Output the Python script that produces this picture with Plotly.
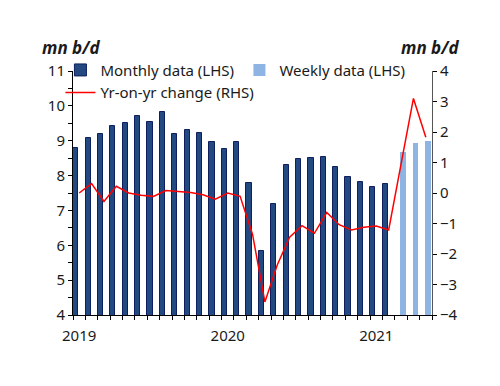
import plotly.graph_objects as go

# Categories: Jan 2019 .. May 2021
months = ["Jan-19","Feb-19","Mar-19","Apr-19","May-19","Jun-19","Jul-19","Aug-19","Sep-19","Oct-19","Nov-19","Dec-19",
          "Jan-20","Feb-20","Mar-20","Apr-20","May-20","Jun-20","Jul-20","Aug-20","Sep-20","Oct-20","Nov-20","Dec-20",
          "Jan-21","Feb-21","Mar-21","Apr-21","May-21"]
tick_text = ["2019" if m == "Jan-19" else "2020" if m == "Jan-20" else "2021" if m == "Jan-21" else "" for m in months]

monthly_x = months[:26]
monthly = [8.78, 9.07, 9.18, 9.41, 9.50, 9.71, 9.54, 9.83, 9.20, 9.31, 9.21, 8.97,
           8.75, 8.97, 7.78, 5.84, 7.18, 8.29, 8.47, 8.50, 8.54, 8.25, 7.97, 7.82,
           7.66, 7.75]
weekly_x = months[26:]
weekly = [8.67, 8.94, 8.99]
yoy = [0.00, 0.31, -0.28, 0.22, 0.00, -0.07, -0.11, 0.08, 0.05, 0.02, -0.06, -0.20,
       0.00, -0.11, -1.35, -3.57, -2.36, -1.45, -1.07, -1.32, -0.64, -1.04, -1.21, -1.12,
       -1.08, -1.21, 0.95, 3.10, 1.83]

FONT = "Noto Sans"
TXT = "#1a1a1a"

fig = go.Figure()
fig.add_trace(go.Bar(x=monthly_x, y=monthly, name="Monthly data (LHS)",
                     marker=dict(color="#224A80", line=dict(color="#0E1E5E", width=1)),
                     offset=-0.49, width=0.42))
fig.add_trace(go.Bar(x=weekly_x, y=weekly, name="Weekly data (LHS)",
                     marker=dict(color="#8DB4E2", line=dict(width=0)),
                     offset=-0.06, width=0.46))
fig.add_trace(go.Scatter(x=months, y=yoy, name="Yr-on-yr change (RHS)", mode="lines",
                         line=dict(color="#FF0000", width=1.5), yaxis="y2"))

fig.update_layout(
    width=500, height=386,
    margin=dict(l=73, r=68, t=71, b=71, autoexpand=False),
    paper_bgcolor="white", plot_bgcolor="white",
    font=dict(family=FONT, size=15, color=TXT),
    showlegend=True,
    legend=dict(orientation="h", x=-0.035, y=1.071, xanchor="left", yanchor="top",
                entrywidth=134, entrywidthmode="pixels",
                bgcolor="rgba(0,0,0,0)", font=dict(size=15, color=TXT),
                traceorder="normal", itemwidth=30),
    xaxis=dict(type="category", categoryorder="array", categoryarray=months,
               range=[-0.5, len(months) - 0.5],
               tickmode="array", tickvals=months, ticktext=tick_text, tickangle=0,
               tickson="boundaries", ticks="outside", ticklen=4, tickcolor="black",
               ticklabelstandoff=7,
               showline=True, linecolor="black", linewidth=1, showgrid=False,
               tickfont=dict(size=15, color=TXT), zeroline=False, automargin=False),
    yaxis=dict(range=[4, 11], dtick=1, ticks="outside", ticklen=4, tickcolor="black",
               minor=dict(dtick=0.5, ticks="outside", ticklen=4, tickcolor="black", showgrid=False),
               showline=True, linecolor="black", linewidth=1, showgrid=False, zeroline=False,
               tickfont=dict(size=15, color=TXT), automargin=False),
    yaxis2=dict(range=[-4, 4], dtick=1, overlaying="y", side="right",
                ticks="outside", ticklen=4, tickcolor="black",
                showline=True, linecolor="#555555", linewidth=1, showgrid=False, zeroline=False,
                tickfont=dict(size=15, color=TXT), automargin=False),
    bargap=0, barmode="overlay",
)

fig.add_annotation(text="<b><i>mn b/d</i></b>", xref="paper", yref="paper", x=-0.005, y=1.098,
                   xanchor="center", yanchor="middle", showarrow=False, font=dict(size=17, color=TXT))
fig.add_annotation(text="<b><i>mn b/d</i></b>", xref="paper", yref="paper", x=0.995, y=1.098,
                   xanchor="center", yanchor="middle", showarrow=False, font=dict(size=17, color=TXT))

fig.write_html("out.html", config={"displayModeBar": False},
               post_script="document.body.style.margin='0';document.body.style.padding='0';")
